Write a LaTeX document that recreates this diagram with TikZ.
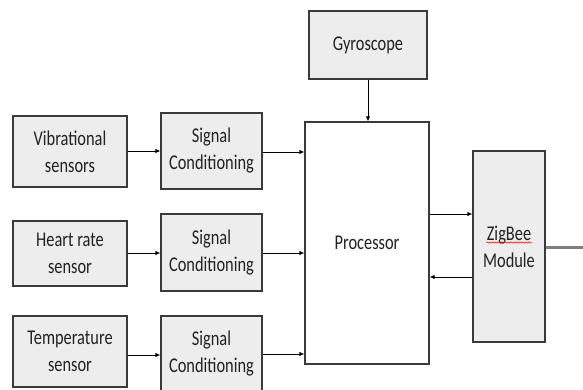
\documentclass[tikz,border=0pt]{standalone}
\usepackage{fontspec}
\setmainfont[FakeStretch=0.78]{Carlito}
\usetikzlibrary{arrows.meta,decorations.pathmorphing}
\definecolor{boxfill}{HTML}{EDEDED}
\definecolor{boxline}{HTML}{3A3A3A}
\definecolor{txt}{HTML}{222222}
\definecolor{linkgray}{HTML}{7F7F7F}
\tikzset{
  blk/.style={draw=boxline, line width=1.1pt, fill=boxfill, inner sep=0pt, align=center,
    text=txt, font=\fontsize{21}{27}\selectfont},
  arr/.style={draw=black, line width=0.9pt, -{Latex[length=5pt,width=4.5pt]}},
}
\begin{document}
\begin{tikzpicture}[x=1pt,y=-1pt]
\useasboundingbox (0,0) rectangle (583,390);
% sensors
\node[blk, minimum width=114pt, minimum height=71pt] (vib) at (70,151.5) {Vibrational\\sensors};
\node[blk, minimum width=114pt, minimum height=65pt] (hr) at (70,253.5) {Heart rate\\sensor};
\node[blk, minimum width=114pt, minimum height=71pt] (temp) at (70,351.5) {Temperature\\sensor};
% signal conditioning
\node[blk, minimum width=101pt, minimum height=76pt] (sc1) at (211.5,151) {Signal\\Conditioning};
\node[blk, minimum width=101pt, minimum height=77pt] (sc2) at (211.5,252.5) {Signal\\Conditioning};
\node[blk, minimum width=101pt, minimum height=76pt] (sc3) at (211.5,354) {Signal\\Conditioning};
% gyroscope, processor, zigbee
\node[blk, minimum width=118pt, minimum height=68pt] (gyro) at (368,45) {Gyroscope};
\node[blk, fill=white, minimum width=124pt, minimum height=242pt] (proc) at (367,243) {Processor};
\node[blk, minimum width=72pt, minimum height=191pt] (zig) at (509,246.5) {ZigBee\\Module};
\coordinate (out) at (583,247);
% red spell-check squiggle under ZigBee
\draw[red, line width=0.5pt, decorate, decoration={snake, segment length=3pt, amplitude=0.7pt}]
  (486,242.5) -- (532,242.5);
% connectors
\draw[arr] (vib.east |- 0,151) -- (sc1.west |- 0,151);
\draw[arr] (hr.east |- 0,253) -- (sc2.west |- 0,253);
\draw[arr] (temp.east |- 0,355) -- (sc3.west |- 0,355);
\draw[arr] (sc1.east |- 0,152) -- (proc.west |- 0,152);
\draw[arr] (sc2.east |- 0,253) -- (proc.west |- 0,253);
\draw[arr] (sc3.east |- 0,354) -- (proc.west |- 0,354);
\draw[arr] (gyro.south) -- (gyro.south |- proc.north);
\draw[arr] (proc.east |- 0,214) -- (zig.west |- 0,214);
\draw[arr] (zig.west |- 0,277) -- (proc.east |- 0,277);
\draw[linkgray, line width=3pt] (zig.east |- out) -- (out);
\end{tikzpicture}
\end{document}
